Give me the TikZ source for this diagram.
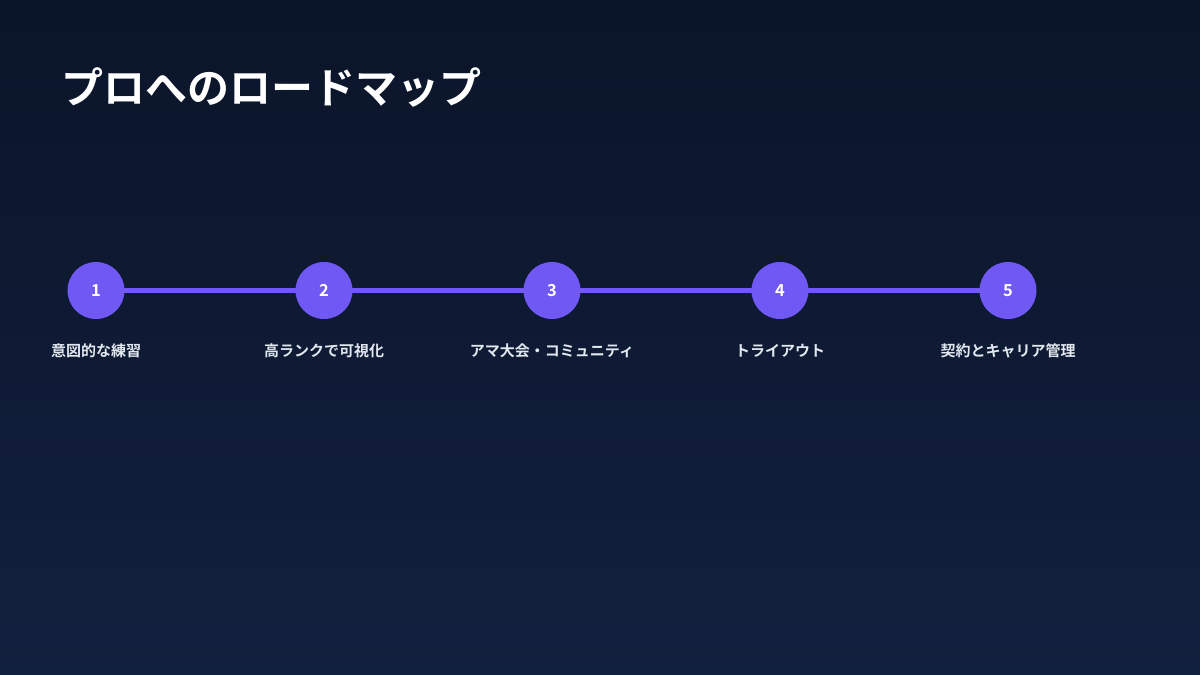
\documentclass[tikz,border=0pt]{standalone}
\usepackage{fontspec}
\setmainfont{Noto Sans CJK JP}[BoldFont={Noto Sans CJK JP Bold}]
\definecolor{bgtop}{HTML}{0B1529}
\definecolor{bgbot}{HTML}{12203F}
\definecolor{accent}{RGB}{112,88,245}
\definecolor{labelc}{HTML}{E2E8F0}
\begin{document}
\begin{tikzpicture}[x=1pt,y=-1pt,
  stepcircle/.style={circle,fill=accent,minimum size=57pt,inner sep=0pt,text=white,font=\fontsize{16.5}{16.5}\selectfont\bfseries},
  steplabel/.style={text=labelc,font=\fontsize{15}{15}\selectfont\bfseries,inner sep=0pt},
  connector/.style={draw=accent,line width=5pt}]
\shade[top color=bgtop,bottom color=bgbot] (0,0) rectangle (1200,675);
\useasboundingbox (0,0) rectangle (1200,675);
\node[anchor=west,text=white,font=\fontsize{42}{42}\selectfont\bfseries,inner sep=0pt] (title) at (61,88) {プロへのロードマップ};
\coordinate (c1) at (96,290.5);
\coordinate (c2) at (324,290.5);
\coordinate (c3) at (552,290.5);
\coordinate (c4) at (780,290.5);
\coordinate (c5) at (1008,290.5);
\draw[connector] (c1) -- (c5);
\node[stepcircle] (n1) at (c1) {1};
\node[stepcircle] (n2) at (c2) {2};
\node[stepcircle] (n3) at (c3) {3};
\node[stepcircle] (n4) at (c4) {4};
\node[stepcircle] (n5) at (c5) {5};
\node[steplabel] (l1) at (96,351) {意図的な練習};
\node[steplabel] (l2) at (324,351) {高ランクで可視化};
\node[steplabel] (l3) at (552,351) {アマ大会・コミュニティ};
\node[steplabel] (l4) at (780,351) {トライアウト};
\node[steplabel] (l5) at (1008,351) {契約とキャリア管理};
\end{tikzpicture}
\end{document}
